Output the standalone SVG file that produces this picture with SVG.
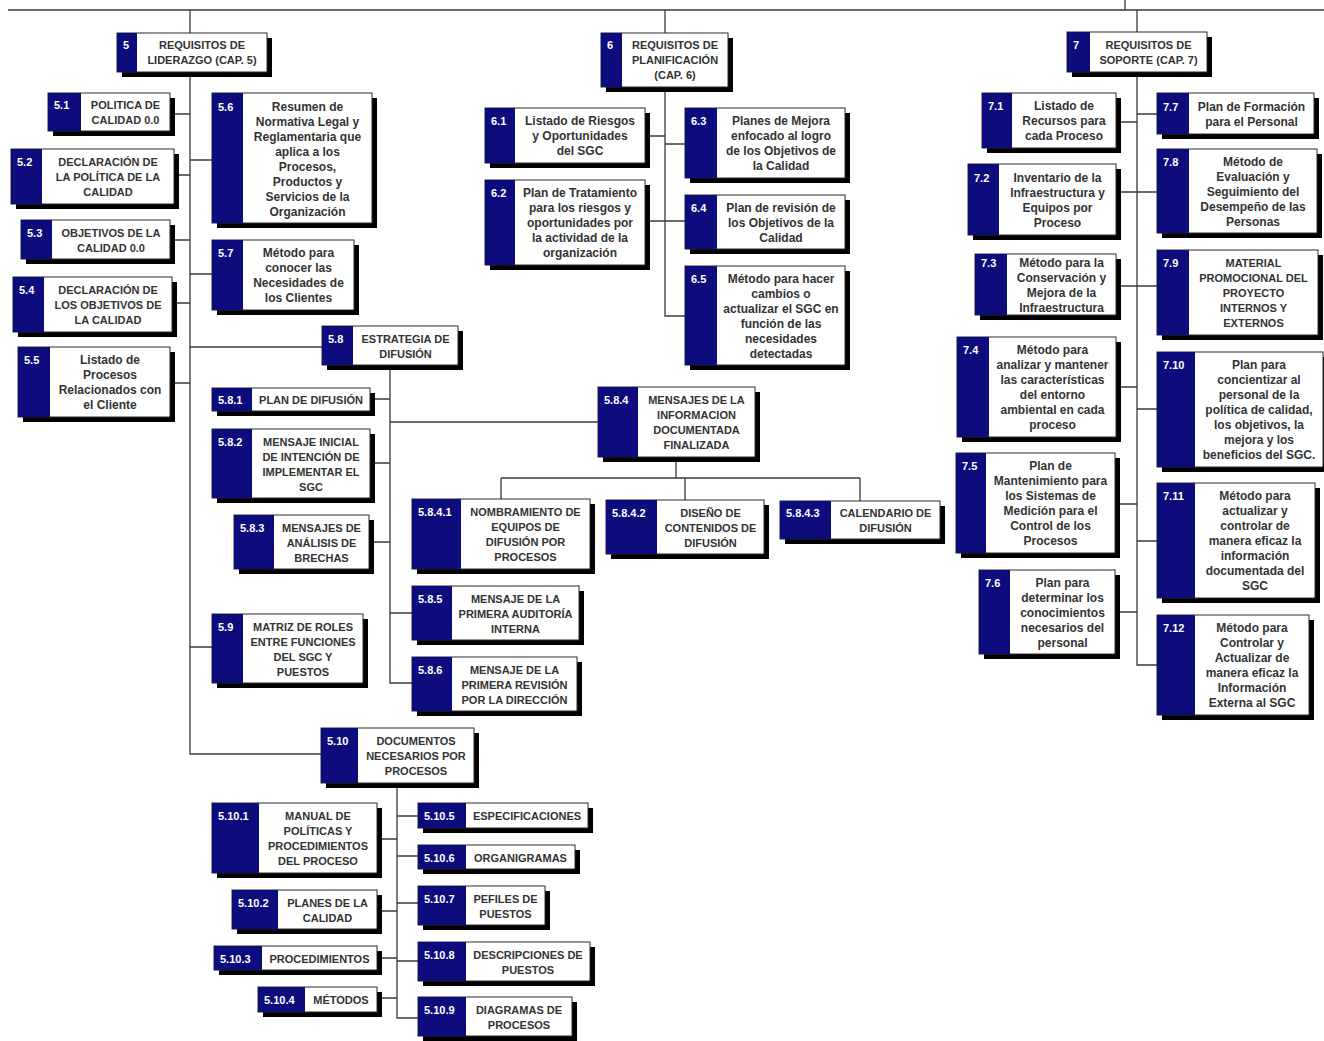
<svg xmlns="http://www.w3.org/2000/svg" width="1324" height="1041" viewBox="0 0 1324 1041">
<style>
  .bg{fill:#fff}
  .ln{fill:none;stroke:#3a3a3a;stroke-width:1.3}
  .sh{fill:#000}
  .bx{fill:#fff;stroke:#2a2a2a;stroke-width:1}
  .nv{fill:#0c0c7c}
  .num{fill:#fff;font-family:"Liberation Sans",Arial,sans-serif;font-weight:bold;font-size:11px}
  .tu{fill:#333;font-family:"Liberation Sans",Arial,sans-serif;font-weight:bold;font-size:11px;text-anchor:middle}
  .tx{fill:#333;font-family:"Liberation Sans",Arial,sans-serif;font-weight:bold;font-size:12px;text-anchor:middle}
</style>
<rect class="bg" x="0" y="0" width="1324" height="1041"/>

<!-- connectors -->
<g id="connectors" class="ln">
  <path d="M8,10 H1324 M1125,0 V10"/>
  <!-- chapter 5 -->
  <path d="M190,10 V33 M190,72 V754 H321"/>
  <path d="M170,114 H190 M174,175 H190 M170,240 H190 M172,303 H190 M170,383 H190"/>
  <path d="M190,160 H212 M190,274 H212 M190,347 H322 M190,647 H212"/>
  <path d="M390,365 V683 H412 M370,399 H390 M370,463 H390 M369,542 H390 M390,422 H598 M390,613 H412"/>
  <path d="M676,457 V478 M501,478 H860 M501,478 V499 M685,478 V500 M860,478 V501"/>
  <path d="M397,783 V1018 H418 M377,839 H397 M377,911 H397 M377,958 H397 M377,998 H397"/>
  <path d="M397,816 H418 M397,856 H418 M397,903 H418 M397,961 H418"/>
  <!-- chapter 6 -->
  <path d="M665,10 V33 M665,87 V316 H685 M645,136 H665 M645,221 H685 M665,144 H685"/>
  <!-- chapter 7 -->
  <path d="M1137,10 V32 M1137,72 V665 H1157"/>
  <path d="M1116,122 H1137 M1137,114 H1157 M1116,192 H1157 M1116,286 H1157"/>
  <path d="M1116,387 H1137 M1137,409 H1157 M1115,504 H1137 M1137,541 H1157 M1115,612 H1137"/>
</g>

<!-- chapter heads -->
<g id="n5"><rect class="sh" x="122" y="38" width="150" height="39"/><rect class="bx" x="117" y="33" width="150" height="39"/><rect class="nv" x="117" y="33" width="20" height="39"/><text class="num" x="123" y="49">5</text><text class="tu"><tspan x="202" y="49">REQUISITOS DE</tspan><tspan x="202" dy="15">LIDERAZGO (CAP. 5)</tspan></text></g>
<g id="n6"><rect class="sh" x="606" y="38" width="127" height="54"/><rect class="bx" x="601" y="33" width="127" height="54"/><rect class="nv" x="601" y="33" width="21" height="54"/><text class="num" x="607" y="49">6</text><text class="tu"><tspan x="675" y="49">REQUISITOS DE</tspan><tspan x="675" dy="15">PLANIFICACIÓN</tspan><tspan x="675" dy="15">(CAP. 6)</tspan></text></g>
<g id="n7"><rect class="sh" x="1072" y="37" width="140" height="40"/><rect class="bx" x="1067" y="32" width="140" height="40"/><rect class="nv" x="1067" y="32" width="23" height="40"/><text class="num" x="1073" y="49">7</text><text class="tu"><tspan x="1148.5" y="49">REQUISITOS DE</tspan><tspan x="1148.5" dy="15">SOPORTE (CAP. 7)</tspan></text></g>

<!-- chapter 5 items -->
<g id="n5-1"><rect class="sh" x="53" y="98" width="122" height="38"/><rect class="bx" x="48" y="93" width="122" height="38"/><rect class="nv" x="48" y="93" width="33" height="38"/><text class="num" x="54" y="109">5.1</text><text class="tu"><tspan x="125.5" y="109">POLITICA DE</tspan><tspan x="125.5" dy="15">CALIDAD 0.0</tspan></text></g>
<g id="n5-2"><rect class="sh" x="16" y="154" width="163" height="55"/><rect class="bx" x="11" y="149" width="163" height="55"/><rect class="nv" x="11" y="149" width="31" height="55"/><text class="num" x="17" y="166">5.2</text><text class="tu"><tspan x="108" y="166">DECLARACIÓN DE</tspan><tspan x="108" dy="15">LA POLÍTICA DE LA</tspan><tspan x="108" dy="15">CALIDAD</tspan></text></g>
<g id="n5-3"><rect class="sh" x="26" y="225" width="149" height="39"/><rect class="bx" x="21" y="220" width="149" height="39"/><rect class="nv" x="21" y="220" width="31" height="39"/><text class="num" x="27" y="236.5">5.3</text><text class="tu"><tspan x="111" y="236.5">OBJETIVOS DE LA</tspan><tspan x="111" dy="15">CALIDAD 0.0</tspan></text></g>
<g id="n5-4"><rect class="sh" x="18" y="282" width="159" height="55"/><rect class="bx" x="13" y="277" width="159" height="55"/><rect class="nv" x="13" y="277" width="31" height="55"/><text class="num" x="19" y="294">5.4</text><text class="tu"><tspan x="108" y="294">DECLARACIÓN DE</tspan><tspan x="108" dy="15">LOS OBJETIVOS DE</tspan><tspan x="108" dy="15">LA CALIDAD</tspan></text></g>
<g id="n5-5"><rect class="sh" x="23" y="352" width="152" height="70"/><rect class="bx" x="18" y="347" width="152" height="70"/><rect class="nv" x="18" y="347" width="32" height="70"/><text class="num" x="24" y="364">5.5</text><text class="tx"><tspan x="110" y="364">Listado de</tspan><tspan x="110" dy="15">Procesos</tspan><tspan x="110" dy="15">Relacionados con</tspan><tspan x="110" dy="15">el Cliente</tspan></text></g>
<g id="n5-6"><rect class="sh" x="217" y="98" width="160" height="130"/><rect class="bx" x="212" y="93" width="160" height="130"/><rect class="nv" x="212" y="93" width="31" height="130"/><text class="num" x="218" y="110.5">5.6</text><text class="tx"><tspan x="307.5" y="110.5">Resumen de</tspan><tspan x="307.5" dy="15">Normativa Legal y</tspan><tspan x="307.5" dy="15">Reglamentaria que</tspan><tspan x="307.5" dy="15">aplica a los</tspan><tspan x="307.5" dy="15">Procesos,</tspan><tspan x="307.5" dy="15">Productos y</tspan><tspan x="307.5" dy="15">Servicios de la</tspan><tspan x="307.5" dy="15">Organización</tspan></text></g>
<g id="n5-7"><rect class="sh" x="217" y="245" width="142" height="70"/><rect class="bx" x="212" y="240" width="142" height="70"/><rect class="nv" x="212" y="240" width="31" height="70"/><text class="num" x="218" y="257">5.7</text><text class="tx"><tspan x="298.5" y="257">Método para</tspan><tspan x="298.5" dy="15">conocer las</tspan><tspan x="298.5" dy="15">Necesidades de</tspan><tspan x="298.5" dy="15">los Clientes</tspan></text></g>
<g id="n5-8"><rect class="sh" x="327" y="331" width="136" height="39"/><rect class="bx" x="322" y="326" width="136" height="39"/><rect class="nv" x="322" y="326" width="31" height="39"/><text class="num" x="328" y="342.5">5.8</text><text class="tu"><tspan x="405.5" y="342.5">ESTRATEGIA DE</tspan><tspan x="405.5" dy="15">DIFUSIÓN</tspan></text></g>
<g id="n5-9"><rect class="sh" x="217" y="619" width="151" height="69"/><rect class="bx" x="212" y="614" width="151" height="69"/><rect class="nv" x="212" y="614" width="31" height="69"/><text class="num" x="218" y="630.5">5.9</text><text class="tu"><tspan x="303" y="630.5">MATRIZ DE ROLES</tspan><tspan x="303" dy="15">ENTRE FUNCIONES</tspan><tspan x="303" dy="15">DEL SGC Y</tspan><tspan x="303" dy="15">PUESTOS</tspan></text></g>
<g id="n5-10"><rect class="sh" x="326" y="733" width="153" height="55"/><rect class="bx" x="321" y="728" width="153" height="55"/><rect class="nv" x="321" y="728" width="37" height="55"/><text class="num" x="327" y="745">5.10</text><text class="tu"><tspan x="416" y="745">DOCUMENTOS</tspan><tspan x="416" dy="15">NECESARIOS POR</tspan><tspan x="416" dy="15">PROCESOS</tspan></text></g>

<!-- 5.8 items -->
<g id="n5-8-1"><rect class="sh" x="217" y="393" width="158" height="23"/><rect class="bx" x="212" y="388" width="158" height="23"/><rect class="nv" x="212" y="388" width="40" height="23"/><text class="num" x="218" y="404">5.8.1</text><text class="tu"><tspan x="311" y="404">PLAN DE DIFUSIÓN</tspan></text></g>
<g id="n5-8-2"><rect class="sh" x="217" y="434" width="158" height="69"/><rect class="bx" x="212" y="429" width="158" height="69"/><rect class="nv" x="212" y="429" width="40" height="69"/><text class="num" x="218" y="445.5">5.8.2</text><text class="tu"><tspan x="311" y="445.5">MENSAJE INICIAL</tspan><tspan x="311" dy="15">DE INTENCIÓN DE</tspan><tspan x="311" dy="15">IMPLEMENTAR EL</tspan><tspan x="311" dy="15">SGC</tspan></text></g>
<g id="n5-8-3"><rect class="sh" x="239" y="520" width="135" height="54"/><rect class="bx" x="234" y="515" width="135" height="54"/><rect class="nv" x="234" y="515" width="40" height="54"/><text class="num" x="240" y="531.5">5.8.3</text><text class="tu"><tspan x="321.5" y="531.5">MENSAJES DE</tspan><tspan x="321.5" dy="15">ANÁLISIS DE</tspan><tspan x="321.5" dy="15">BRECHAS</tspan></text></g>
<g id="n5-8-4"><rect class="sh" x="603" y="392" width="157" height="70"/><rect class="bx" x="598" y="387" width="157" height="70"/><rect class="nv" x="598" y="387" width="40" height="70"/><text class="num" x="604" y="404">5.8.4</text><text class="tu"><tspan x="696.5" y="404">MENSAJES DE LA</tspan><tspan x="696.5" dy="15">INFORMACION</tspan><tspan x="696.5" dy="15">DOCUMENTADA</tspan><tspan x="696.5" dy="15">FINALIZADA</tspan></text></g>
<g id="n5-8-5"><rect class="sh" x="417" y="591" width="167" height="54"/><rect class="bx" x="412" y="586" width="167" height="54"/><rect class="nv" x="412" y="586" width="40" height="54"/><text class="num" x="418" y="602.5">5.8.5</text><text class="tu"><tspan x="515.5" y="602.5">MENSAJE DE LA</tspan><tspan x="515.5" dy="15">PRIMERA AUDITORÍA</tspan><tspan x="515.5" dy="15">INTERNA</tspan></text></g>
<g id="n5-8-6"><rect class="sh" x="417" y="662" width="165" height="54"/><rect class="bx" x="412" y="657" width="165" height="54"/><rect class="nv" x="412" y="657" width="40" height="54"/><text class="num" x="418" y="673.5">5.8.6</text><text class="tu"><tspan x="514.5" y="673.5">MENSAJE DE LA</tspan><tspan x="514.5" dy="15">PRIMERA REVISIÓN</tspan><tspan x="514.5" dy="15">POR LA DIRECCIÓN</tspan></text></g>
<g id="n5-8-4-1"><rect class="sh" x="417" y="504" width="178" height="70"/><rect class="bx" x="412" y="499" width="178" height="70"/><rect class="nv" x="412" y="499" width="49" height="70"/><text class="num" x="418" y="516">5.8.4.1</text><text class="tu"><tspan x="525.5" y="516">NOMBRAMIENTO DE</tspan><tspan x="525.5" dy="15">EQUIPOS DE</tspan><tspan x="525.5" dy="15">DIFUSIÓN POR</tspan><tspan x="525.5" dy="15">PROCESOS</tspan></text></g>
<g id="n5-8-4-2"><rect class="sh" x="611" y="505" width="158" height="54"/><rect class="bx" x="606" y="500" width="158" height="54"/><rect class="nv" x="606" y="500" width="51" height="54"/><text class="num" x="612" y="516.5">5.8.4.2</text><text class="tu"><tspan x="710.5" y="516.5">DISEÑO DE</tspan><tspan x="710.5" dy="15">CONTENIDOS DE</tspan><tspan x="710.5" dy="15">DIFUSIÓN</tspan></text></g>
<g id="n5-8-4-3"><rect class="sh" x="785" y="506" width="160" height="38"/><rect class="bx" x="780" y="501" width="160" height="38"/><rect class="nv" x="780" y="501" width="51" height="38"/><text class="num" x="786" y="517">5.8.4.3</text><text class="tu"><tspan x="885.5" y="517">CALENDARIO DE</tspan><tspan x="885.5" dy="15">DIFUSIÓN</tspan></text></g>

<!-- 5.10 items -->
<g id="n5-10-1"><rect class="sh" x="217" y="808" width="165" height="70"/><rect class="bx" x="212" y="803" width="165" height="70"/><rect class="nv" x="212" y="803" width="47" height="70"/><text class="num" x="218" y="820">5.10.1</text><text class="tu"><tspan x="318" y="820">MANUAL DE</tspan><tspan x="318" dy="15">POLÍTICAS Y</tspan><tspan x="318" dy="15">PROCEDIMIENTOS</tspan><tspan x="318" dy="15">DEL PROCESO</tspan></text></g>
<g id="n5-10-2"><rect class="sh" x="237" y="895" width="145" height="39"/><rect class="bx" x="232" y="890" width="145" height="39"/><rect class="nv" x="232" y="890" width="46" height="39"/><text class="num" x="238" y="906.5">5.10.2</text><text class="tu"><tspan x="327.5" y="906.5">PLANES DE LA</tspan><tspan x="327.5" dy="15">CALIDAD</tspan></text></g>
<g id="n5-10-3"><rect class="sh" x="219" y="951" width="163" height="24"/><rect class="bx" x="214" y="946" width="163" height="24"/><rect class="nv" x="214" y="946" width="48" height="24"/><text class="num" x="220" y="962.5">5.10.3</text><text class="tu"><tspan x="319.5" y="962.5">PROCEDIMIENTOS</tspan></text></g>
<g id="n5-10-4"><rect class="sh" x="263" y="992" width="119" height="25"/><rect class="bx" x="258" y="987" width="119" height="25"/><rect class="nv" x="258" y="987" width="47" height="25"/><text class="num" x="264" y="1004">5.10.4</text><text class="tu"><tspan x="341" y="1004">MÉTODOS</tspan></text></g>
<g id="n5-10-5"><rect class="sh" x="423" y="808" width="170" height="25"/><rect class="bx" x="418" y="803" width="170" height="25"/><rect class="nv" x="418" y="803" width="48" height="25"/><text class="num" x="424" y="820">5.10.5</text><text class="tu"><tspan x="527" y="820">ESPECIFICACIONES</tspan></text></g>
<g id="n5-10-6"><rect class="sh" x="423" y="850" width="157" height="24"/><rect class="bx" x="418" y="845" width="157" height="24"/><rect class="nv" x="418" y="845" width="48" height="24"/><text class="num" x="424" y="861.5">5.10.6</text><text class="tu"><tspan x="520.5" y="861.5">ORGANIGRAMAS</tspan></text></g>
<g id="n5-10-7"><rect class="sh" x="423" y="891" width="127" height="39"/><rect class="bx" x="418" y="886" width="127" height="39"/><rect class="nv" x="418" y="886" width="48" height="39"/><text class="num" x="424" y="902.5">5.10.7</text><text class="tu"><tspan x="505.5" y="902.5">PEFILES DE</tspan><tspan x="505.5" dy="15">PUESTOS</tspan></text></g>
<g id="n5-10-8"><rect class="sh" x="423" y="947" width="172" height="39"/><rect class="bx" x="418" y="942" width="172" height="39"/><rect class="nv" x="418" y="942" width="48" height="39"/><text class="num" x="424" y="958.5">5.10.8</text><text class="tu"><tspan x="528" y="958.5">DESCRIPCIONES DE</tspan><tspan x="528" dy="15">PUESTOS</tspan></text></g>
<g id="n5-10-9"><rect class="sh" x="423" y="1002" width="154" height="39"/><rect class="bx" x="418" y="997" width="154" height="39"/><rect class="nv" x="418" y="997" width="48" height="39"/><text class="num" x="424" y="1013.5">5.10.9</text><text class="tu"><tspan x="519" y="1013.5">DIAGRAMAS DE</tspan><tspan x="519" dy="15">PROCESOS</tspan></text></g>

<!-- chapter 6 items -->
<g id="n6-1"><rect class="sh" x="490" y="113" width="160" height="55"/><rect class="bx" x="485" y="108" width="160" height="55"/><rect class="nv" x="485" y="108" width="30" height="55"/><text class="num" x="491" y="125">6.1</text><text class="tx"><tspan x="580" y="125">Listado de Riesgos</tspan><tspan x="580" dy="15">y Oportunidades</tspan><tspan x="580" dy="15">del SGC</tspan></text></g>
<g id="n6-2"><rect class="sh" x="490" y="185" width="160" height="85"/><rect class="bx" x="485" y="180" width="160" height="85"/><rect class="nv" x="485" y="180" width="30" height="85"/><text class="num" x="491" y="197">6.2</text><text class="tx"><tspan x="580" y="197">Plan de Tratamiento</tspan><tspan x="580" dy="15">para los riesgos y</tspan><tspan x="580" dy="15">oportunidades por</tspan><tspan x="580" dy="15">la actividad de la</tspan><tspan x="580" dy="15">organización</tspan></text></g>
<g id="n6-3"><rect class="sh" x="690" y="113" width="160" height="70"/><rect class="bx" x="685" y="108" width="160" height="70"/><rect class="nv" x="685" y="108" width="32" height="70"/><text class="num" x="691" y="125">6.3</text><text class="tx"><tspan x="781" y="125">Planes de Mejora</tspan><tspan x="781" dy="15">enfocado al logro</tspan><tspan x="781" dy="15">de los Objetivos de</tspan><tspan x="781" dy="15">la Calidad</tspan></text></g>
<g id="n6-4"><rect class="sh" x="690" y="200" width="160" height="54"/><rect class="bx" x="685" y="195" width="160" height="54"/><rect class="nv" x="685" y="195" width="32" height="54"/><text class="num" x="691" y="211.5">6.4</text><text class="tx"><tspan x="781" y="211.5">Plan de revisión de</tspan><tspan x="781" dy="15">los Objetivos de la</tspan><tspan x="781" dy="15">Calidad</tspan></text></g>
<g id="n6-5"><rect class="sh" x="690" y="271" width="160" height="99"/><rect class="bx" x="685" y="266" width="160" height="99"/><rect class="nv" x="685" y="266" width="32" height="99"/><text class="num" x="691" y="282.5">6.5</text><text class="tx"><tspan x="781" y="282.5">Método para hacer</tspan><tspan x="781" dy="15">cambios o</tspan><tspan x="781" dy="15">actualizar el SGC en</tspan><tspan x="781" dy="15">función de las</tspan><tspan x="781" dy="15">necesidades</tspan><tspan x="781" dy="15">detectadas</tspan></text></g>

<!-- chapter 7 items -->
<g id="n7-1"><rect class="sh" x="987" y="98" width="134" height="55"/><rect class="bx" x="982" y="93" width="134" height="55"/><rect class="nv" x="982" y="93" width="30" height="55"/><text class="num" x="988" y="110">7.1</text><text class="tx"><tspan x="1064" y="110">Listado de</tspan><tspan x="1064" dy="15">Recursos para</tspan><tspan x="1064" dy="15">cada Proceso</tspan></text></g>
<g id="n7-2"><rect class="sh" x="973" y="169" width="148" height="71"/><rect class="bx" x="968" y="164" width="148" height="71"/><rect class="nv" x="968" y="164" width="31" height="71"/><text class="num" x="974" y="181.5">7.2</text><text class="tx"><tspan x="1057.5" y="181.5">Inventario de la</tspan><tspan x="1057.5" dy="15">Infraestructura y</tspan><tspan x="1057.5" dy="15">Equipos por</tspan><tspan x="1057.5" dy="15">Proceso</tspan></text></g>
<g id="n7-3"><rect class="sh" x="980" y="259" width="141" height="61"/><rect class="bx" x="975" y="254" width="141" height="61"/><rect class="nv" x="975" y="254" width="32" height="61"/><text class="num" x="981" y="266.5">7.3</text><text class="tx"><tspan x="1061.5" y="266.5">Método para la</tspan><tspan x="1061.5" dy="15">Conservación y</tspan><tspan x="1061.5" dy="15">Mejora de la</tspan><tspan x="1061.5" dy="15">Infraestructura</tspan></text></g>
<g id="n7-4"><rect class="sh" x="962" y="342" width="159" height="100"/><rect class="bx" x="957" y="337" width="159" height="100"/><rect class="nv" x="957" y="337" width="32" height="100"/><text class="num" x="963" y="354">7.4</text><text class="tx"><tspan x="1052.5" y="354">Método para</tspan><tspan x="1052.5" dy="15">analizar y mantener</tspan><tspan x="1052.5" dy="15">las características</tspan><tspan x="1052.5" dy="15">del entorno</tspan><tspan x="1052.5" dy="15">ambiental en cada</tspan><tspan x="1052.5" dy="15">proceso</tspan></text></g>
<g id="n7-5"><rect class="sh" x="961" y="458" width="159" height="100"/><rect class="bx" x="956" y="453" width="159" height="100"/><rect class="nv" x="956" y="453" width="30" height="100"/><text class="num" x="962" y="470">7.5</text><text class="tx"><tspan x="1050.5" y="470">Plan de</tspan><tspan x="1050.5" dy="15">Mantenimiento para</tspan><tspan x="1050.5" dy="15">los Sistemas de</tspan><tspan x="1050.5" dy="15">Medición para el</tspan><tspan x="1050.5" dy="15">Control de los</tspan><tspan x="1050.5" dy="15">Procesos</tspan></text></g>
<g id="n7-6"><rect class="sh" x="984" y="575" width="136" height="84"/><rect class="bx" x="979" y="570" width="136" height="84"/><rect class="nv" x="979" y="570" width="31" height="84"/><text class="num" x="985" y="586.5">7.6</text><text class="tx"><tspan x="1062.5" y="586.5">Plan para</tspan><tspan x="1062.5" dy="15">determinar los</tspan><tspan x="1062.5" dy="15">conocimientos</tspan><tspan x="1062.5" dy="15">necesarios del</tspan><tspan x="1062.5" dy="15">personal</tspan></text></g>
<g id="n7-7"><rect class="sh" x="1162" y="98" width="157" height="41"/><rect class="bx" x="1157" y="93" width="157" height="41"/><rect class="nv" x="1157" y="93" width="32" height="41"/><text class="num" x="1163" y="110.5">7.7</text><text class="tx"><tspan x="1251.5" y="110.5">Plan de Formación</tspan><tspan x="1251.5" dy="15">para el Personal</tspan></text></g>
<g id="n7-8"><rect class="sh" x="1162" y="154" width="160" height="84"/><rect class="bx" x="1157" y="149" width="160" height="84"/><rect class="nv" x="1157" y="149" width="32" height="84"/><text class="num" x="1163" y="165.5">7.8</text><text class="tx"><tspan x="1253" y="165.5">Método de</tspan><tspan x="1253" dy="15">Evaluación y</tspan><tspan x="1253" dy="15">Seguimiento del</tspan><tspan x="1253" dy="15">Desempeño de las</tspan><tspan x="1253" dy="15">Personas</tspan></text></g>
<g id="n7-9"><rect class="sh" x="1162" y="255" width="161" height="85"/><rect class="bx" x="1157" y="250" width="161" height="85"/><rect class="nv" x="1157" y="250" width="32" height="85"/><text class="num" x="1163" y="267">7.9</text><text class="tu"><tspan x="1253.5" y="267">MATERIAL</tspan><tspan x="1253.5" dy="15">PROMOCIONAL DEL</tspan><tspan x="1253.5" dy="15">PROYECTO</tspan><tspan x="1253.5" dy="15">INTERNOS Y</tspan><tspan x="1253.5" dy="15">EXTERNOS</tspan></text></g>
<g id="n7-10"><rect class="sh" x="1162" y="357" width="166" height="115"/><rect class="bx" x="1157" y="352" width="166" height="115"/><rect class="nv" x="1157" y="352" width="38" height="115"/><text class="num" x="1163" y="369">7.10</text><text class="tx"><tspan x="1259" y="369">Plan para</tspan><tspan x="1259" dy="15">concientizar al</tspan><tspan x="1259" dy="15">personal de la</tspan><tspan x="1259" dy="15">política de calidad,</tspan><tspan x="1259" dy="15">los objetivos, la</tspan><tspan x="1259" dy="15">mejora y los</tspan><tspan x="1259" dy="15">beneficios del SGC.</tspan></text></g>
<g id="n7-11"><rect class="sh" x="1162" y="488" width="158" height="115"/><rect class="bx" x="1157" y="483" width="158" height="115"/><rect class="nv" x="1157" y="483" width="38" height="115"/><text class="num" x="1163" y="500">7.11</text><text class="tx"><tspan x="1255" y="500">Método para</tspan><tspan x="1255" dy="15">actualizar y</tspan><tspan x="1255" dy="15">controlar de</tspan><tspan x="1255" dy="15">manera eficaz la</tspan><tspan x="1255" dy="15">información</tspan><tspan x="1255" dy="15">documentada del</tspan><tspan x="1255" dy="15">SGC</tspan></text></g>
<g id="n7-12"><rect class="sh" x="1162" y="620" width="152" height="100"/><rect class="bx" x="1157" y="615" width="152" height="100"/><rect class="nv" x="1157" y="615" width="38" height="100"/><text class="num" x="1163" y="632">7.12</text><text class="tx"><tspan x="1252" y="632">Método para</tspan><tspan x="1252" dy="15">Controlar y</tspan><tspan x="1252" dy="15">Actualizar de</tspan><tspan x="1252" dy="15">manera eficaz la</tspan><tspan x="1252" dy="15">Información</tspan><tspan x="1252" dy="15">Externa al SGC</tspan></text></g>
</svg>
